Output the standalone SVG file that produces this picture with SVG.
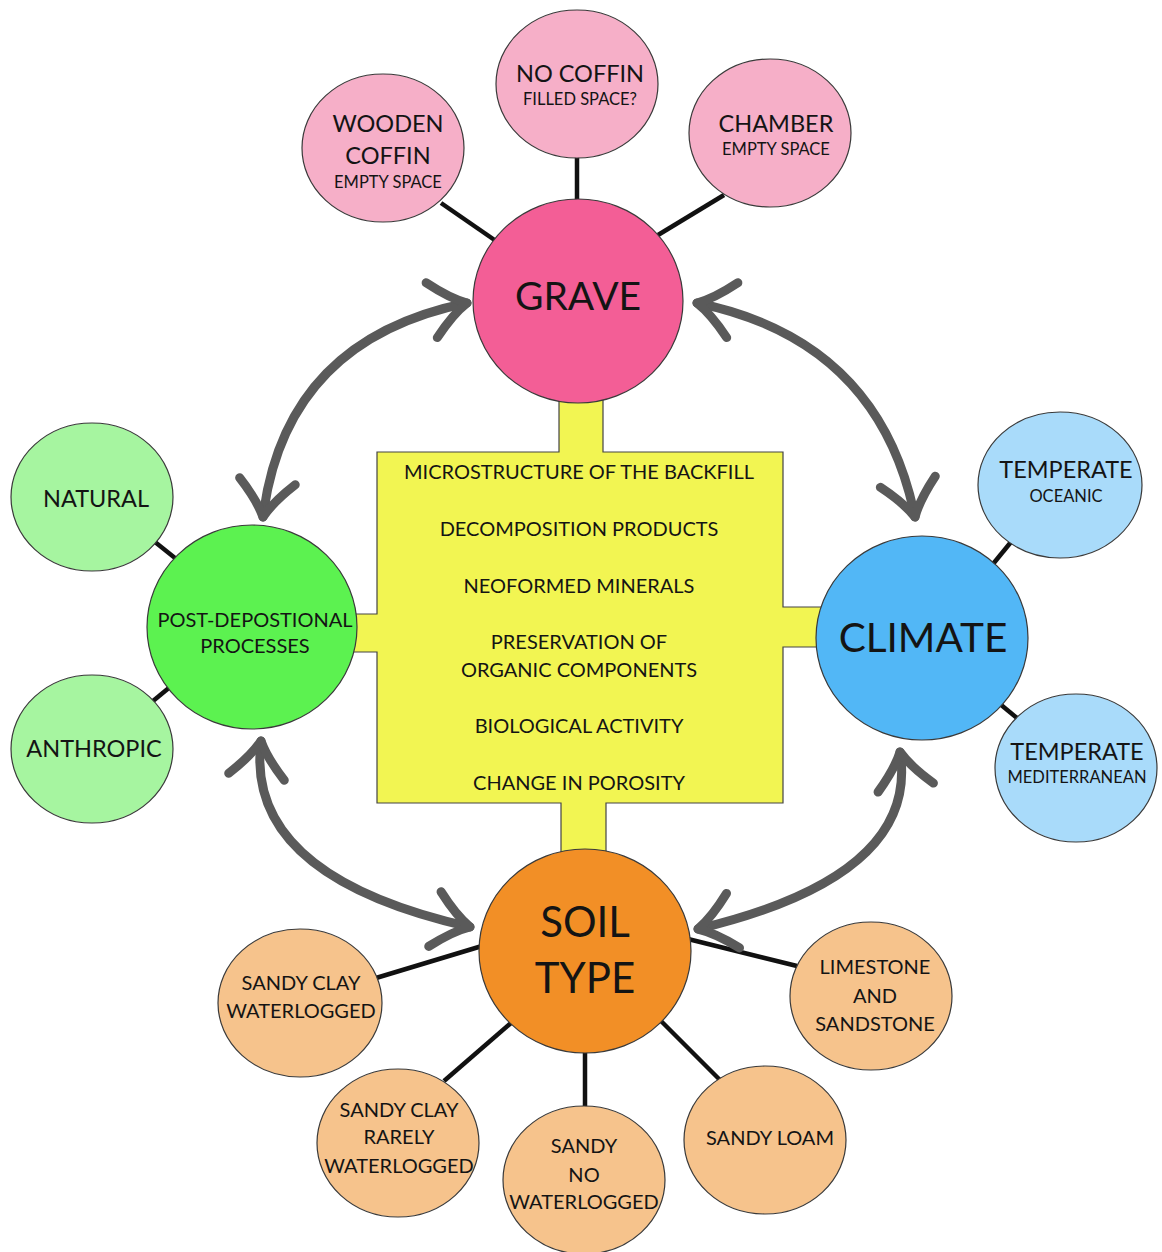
<svg xmlns="http://www.w3.org/2000/svg" width="1162" height="1252" viewBox="0 0 1162 1252">
  <defs>
    <style>
      text{font-family:Lato,"Open Sans","Liberation Sans",sans-serif;fill:#141414;text-anchor:middle}
      .node{stroke:#3a3a3a;stroke-width:1.2}
      .grave{fill:#F35E96}.grave-sub{fill:#F6AFC8}
      .post{fill:#5CF250}.post-sub{fill:#A6F5A0}
      .climate{fill:#52B7F6}.climate-sub{fill:#A9DBFA}
      .soil{fill:#F28F26}.soil-sub{fill:#F6C38C}
      .box{fill:#F2F552;stroke:#444;stroke-width:1.2}
      .link{stroke:#111;stroke-width:4.5;fill:none}
      .cycle{stroke:#5a5a5a;stroke-width:9;fill:none;stroke-linecap:round;marker-start:url(#head);marker-end:url(#head)}
      .big{font-size:39px}
      .mid{font-size:20px}
      .sub{font-size:23.5px}
      .small{font-size:16.5px}
    </style>
    <marker id="head" markerUnits="userSpaceOnUse" markerWidth="1" markerHeight="1" orient="auto-start-reverse" overflow="visible" refX="0" refY="0">
      <path d="M -36 -28 Q -16 -8 0 0 Q -16 8 -36 28" fill="none" stroke="#5a5a5a" stroke-width="9" stroke-linecap="round" stroke-linejoin="round"/>
    </marker>
  </defs>

  <rect width="1162" height="1252" fill="#fff"/>

  <!-- central list of effects with its four stems -->
  <g id="effects">
    <path class="box" d="M 559 400 L 603 400 L 603 452 L 783 452 L 783 607 L 822 607 L 822 647 L 783 647 L 783 803 L 606 803 L 606 858 L 561 858 L 561 803 L 377 803 L 377 652 L 350 652 L 350 614 L 377 614 L 377 452 L 559 452 Z"/>
    <text class="mid" x="579" y="479">MICROSTRUCTURE OF THE BACKFILL</text>
    <text class="mid" x="579" y="536">DECOMPOSITION PRODUCTS</text>
    <text class="mid" x="579" y="593">NEOFORMED MINERALS</text>
    <text class="mid" x="579" y="649">PRESERVATION OF</text>
    <text class="mid" x="579" y="677">ORGANIC COMPONENTS</text>
    <text class="mid" x="579" y="733">BIOLOGICAL ACTIVITY</text>
    <text class="mid" x="579" y="790">CHANGE IN POROSITY</text>
  </g>

  <!-- spokes from each factor to its variants -->
  <g id="connectors">
    <line class="link" x1="441" y1="203" x2="496" y2="241"/>
    <line class="link" x1="577" y1="156" x2="577" y2="202"/>
    <line class="link" x1="724" y1="195" x2="658" y2="235"/>
    <line class="link" x1="155" y1="542" x2="175" y2="558"/>
    <line class="link" x1="153" y1="701" x2="170" y2="687"/>
    <line class="link" x1="1011" y1="542" x2="993" y2="564"/>
    <line class="link" x1="1000" y1="704" x2="1017" y2="718"/>
    <line class="link" x1="376" y1="978" x2="482" y2="946"/>
    <line class="link" x1="444" y1="1081" x2="511" y2="1023"/>
    <line class="link" x1="585" y1="1050" x2="585" y2="1110"/>
    <line class="link" x1="688" y1="939" x2="797" y2="966"/>
    <line class="link" x1="661" y1="1021" x2="721" y2="1081"/>
  </g>

  <!-- grave -->
  <g id="grave">
    <ellipse class="node grave" cx="578" cy="301" rx="105" ry="102"/>
    <text class="big" x="578" y="310">GRAVE</text>
  </g>
  <g id="wooden-coffin">
    <ellipse class="node grave-sub" cx="383" cy="148" rx="81" ry="74"/>
    <text class="sub" x="388" y="132">WOODEN</text>
    <text class="sub" x="388" y="164">COFFIN</text>
    <text class="small" x="388" y="188">EMPTY SPACE</text>
  </g>
  <g id="no-coffin">
    <ellipse class="node grave-sub" cx="577" cy="84" rx="81" ry="74"/>
    <text class="sub" x="580" y="82">NO COFFIN</text>
    <text class="small" x="580" y="105">FILLED SPACE?</text>
  </g>
  <g id="chamber">
    <ellipse class="node grave-sub" cx="770" cy="133" rx="81" ry="74"/>
    <text class="sub" x="776" y="132">CHAMBER</text>
    <text class="small" x="776" y="155">EMPTY SPACE</text>
  </g>

  <!-- post-depositional processes -->
  <g id="post-depositional">
    <ellipse class="node post" cx="252" cy="627" rx="105" ry="102"/>
    <text class="mid" x="255" y="627">POST-DEPOSTIONAL</text>
    <text class="mid" x="255" y="653">PROCESSES</text>
  </g>
  <g id="natural">
    <ellipse class="node post-sub" cx="92" cy="497" rx="81" ry="74"/>
    <text class="sub" x="96" y="507">NATURAL</text>
  </g>
  <g id="anthropic">
    <ellipse class="node post-sub" cx="92" cy="749" rx="81" ry="74"/>
    <text class="sub" x="94" y="757">ANTHROPIC</text>
  </g>

  <!-- climate -->
  <g id="climate">
    <ellipse class="node climate" cx="922" cy="638" rx="106" ry="102"/>
    <text class="big" x="923" y="652" style="font-size:40.5px">CLIMATE</text>
  </g>
  <g id="temperate-oceanic">
    <ellipse class="node climate-sub" cx="1060" cy="485" rx="82" ry="73"/>
    <text class="sub" x="1066" y="478">TEMPERATE</text>
    <text class="small" x="1066" y="502">OCEANIC</text>
  </g>
  <g id="temperate-mediterranean">
    <ellipse class="node climate-sub" cx="1076" cy="768" rx="81" ry="74"/>
    <text class="sub" x="1077" y="760">TEMPERATE</text>
    <text class="small" x="1077" y="783">MEDITERRANEAN</text>
  </g>

  <!-- soil type -->
  <g id="soil-type">
    <ellipse class="node soil" cx="585" cy="951" rx="106" ry="102"/>
    <text class="big" x="585" y="937" style="font-size:42px">SOIL</text>
    <text class="big" x="585" y="993" style="font-size:42px">TYPE</text>
  </g>
  <g id="sandy-clay-waterlogged">
    <ellipse class="node soil-sub" cx="300" cy="1003" rx="82" ry="74"/>
    <text class="mid" x="301" y="990">SANDY CLAY</text>
    <text class="mid" x="301" y="1018">WATERLOGGED</text>
  </g>
  <g id="sandy-clay-rarely">
    <ellipse class="node soil-sub" cx="398" cy="1143" rx="81" ry="74"/>
    <text class="mid" x="399" y="1117">SANDY CLAY</text>
    <text class="mid" x="399" y="1144">RARELY</text>
    <text class="mid" x="399" y="1173">WATERLOGGED</text>
  </g>
  <g id="sandy-no-waterlogged">
    <ellipse class="node soil-sub" cx="584" cy="1180" rx="81" ry="74"/>
    <text class="mid" x="584" y="1153">SANDY</text>
    <text class="mid" x="584" y="1182">NO</text>
    <text class="mid" x="584" y="1209">WATERLOGGED</text>
  </g>
  <g id="sandy-loam">
    <ellipse class="node soil-sub" cx="765" cy="1140" rx="81" ry="74"/>
    <text class="mid" x="770" y="1145">SANDY LOAM</text>
  </g>
  <g id="limestone-sandstone">
    <ellipse class="node soil-sub" cx="871" cy="996" rx="81" ry="74"/>
    <text class="mid" x="875" y="974">LIMESTONE</text>
    <text class="mid" x="875" y="1003">AND</text>
    <text class="mid" x="875" y="1031">SANDSTONE</text>
  </g>

  <!-- two-way interactions between the four factors -->
  <g id="interactions">
    <path class="cycle" d="M 467 303 Q 285 340 263 517"/>
    <path class="cycle" d="M 697 303 Q 879 340 915 517"/>
    <path class="cycle" d="M 261 741 Q 244 876 470 927"/>
    <path class="cycle" d="M 900 752 Q 920 876 698 929"/>
  </g>
</svg>
